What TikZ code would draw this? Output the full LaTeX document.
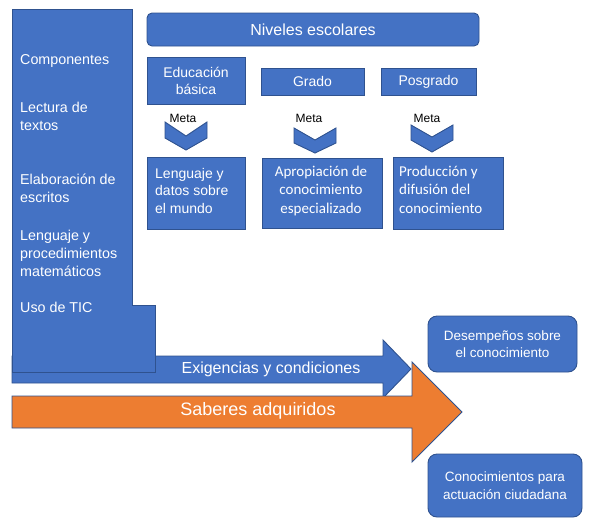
\documentclass[tikz,border=0pt]{standalone}
\usepackage{fontspec}
\setmainfont{Liberation Sans}
\newfontfamily\carlito{Carlito}
\definecolor{bluefill}{HTML}{4472C4}
\definecolor{blueedge}{HTML}{2F528F}
\definecolor{orangefill}{HTML}{ED7D31}
\begin{document}
\begin{tikzpicture}[x=1pt,y=-1pt,
  bshape/.style={fill=bluefill,draw=blueedge,line width=0.9pt,line join=miter},
  oshape/.style={fill=orangefill,draw=blueedge,line width=0.9pt,line join=miter},
  wtext/.style={text=white,inner sep=0pt},
  lbl/.style={wtext,anchor=base west,align=left,font=\fontsize{14.3}{18}\selectfont},
  boxr/.style={bshape,inner sep=0pt,text=white},
  meta/.style={inner sep=0pt,font=\fontsize{12}{14}\selectfont},
  chev/.style={bshape}
]
\useasboundingbox (0,0) rectangle (589,520);

% blue arrow (behind left box)
\draw[bshape] (12,356) -- (383,356) -- (383,340) -- (411,369) -- (383,398) -- (383,383) -- (12,383) -- cycle;
% left stepped box
\draw[bshape] (12,9) -- (132,9) -- (132,305) -- (155,305) -- (155,372) -- (12,372) -- cycle;
% orange arrow
\draw[oshape] (12,396) -- (412,396) -- (412,362) -- (462,412) -- (412,462) -- (412,428) -- (12,428) -- cycle;

\node[wtext,font=\fontsize{16}{18}\selectfont] (exig) at (271,369) {Exigencias y condiciones};
\node[wtext,font=\fontsize{18}{20}\selectfont] (saber) at (258,411) {Saberes adquiridos};

% left labels (base = baseline of last line)
\node[lbl] (comp) at (20,64) {Componentes};
\node[lbl] (lect) at (20,130.5) {Lectura de\\textos};
\node[lbl] (elab) at (20,202) {Elaboración de\\escritos};
\node[lbl] (leng) at (20,276) {Lenguaje y\\procedimientos\\matemáticos};
\node[lbl] (tic) at (20,312) {Uso de TIC};

% top
\node[boxr,rounded corners=5pt,minimum width=332,minimum height=33,font=\fontsize{16}{18}\selectfont] (niv) at (313,29.5) {Niveles escolares};

\node[boxr,minimum width=98,minimum height=47,align=center,font=\fontsize{14}{17}\selectfont] (edu) at (196,80.5) {Educación\\básica};
\node[boxr,minimum width=103,minimum height=27,font=\fontsize{14}{17}\selectfont] (grado) at (312.5,81.5) {Grado};
\node[boxr,minimum width=95,minimum height=27,font=\fontsize{14}{17}\selectfont] (posg) at (428.5,81.5) {Posgrado};

% Meta labels and chevrons
\node[meta] (m1) at (183,118) {Meta};
\node[meta] (m2) at (309,118) {Meta};
\node[meta] (m3) at (427,118) {Meta};
\draw[chev] (165,122) -- (186,136) -- (207,122) -- (207,138) -- (186,150) -- (165,138) -- cycle;
\draw[chev] (294,128) -- (315,140) -- (336,128) -- (336,143) -- (315,153) -- (294,143) -- cycle;
\draw[chev] (411,125) -- (432,137) -- (453,125) -- (453,140) -- (432,152) -- (411,140) -- cycle;

% goal boxes
\node[boxr,minimum width=98,minimum height=72] (g1) at (196,193) {};
\node[wtext,anchor=base west,align=left,font=\fontsize{14}{17.5}\selectfont] (g1t) at (155,213) {Lenguaje y\\datos sobre\\el mundo};

\node[boxr,minimum width=120,minimum height=70] (g2) at (322,193) {};
\node[wtext,anchor=base,align=center,font=\carlito\fontsize{15}{18.5}\selectfont] (g2t) at (321,213) {Apropiación de\\conocimiento\\especializado};

\node[boxr,minimum width=110,minimum height=72] (g3) at (448,193) {};
\node[wtext,anchor=base west,align=left,font=\carlito\fontsize{15}{18.5}\selectfont] (g3t) at (399,213) {Producción y\\difusión del\\conocimiento};

% right boxes
\node[boxr,rounded corners=9pt,minimum width=149,minimum height=56,align=center,font=\fontsize{13.5}{16.5}\selectfont] (des) at (502.5,344) {Desempeños sobre\\el conocimiento};
\node[boxr,rounded corners=9pt,minimum width=154,minimum height=63,align=center,font=\fontsize{13.5}{17.5}\selectfont] (conc) at (505,485.5) {Conocimientos para\\actuación ciudadana};
\end{tikzpicture}
\end{document}
